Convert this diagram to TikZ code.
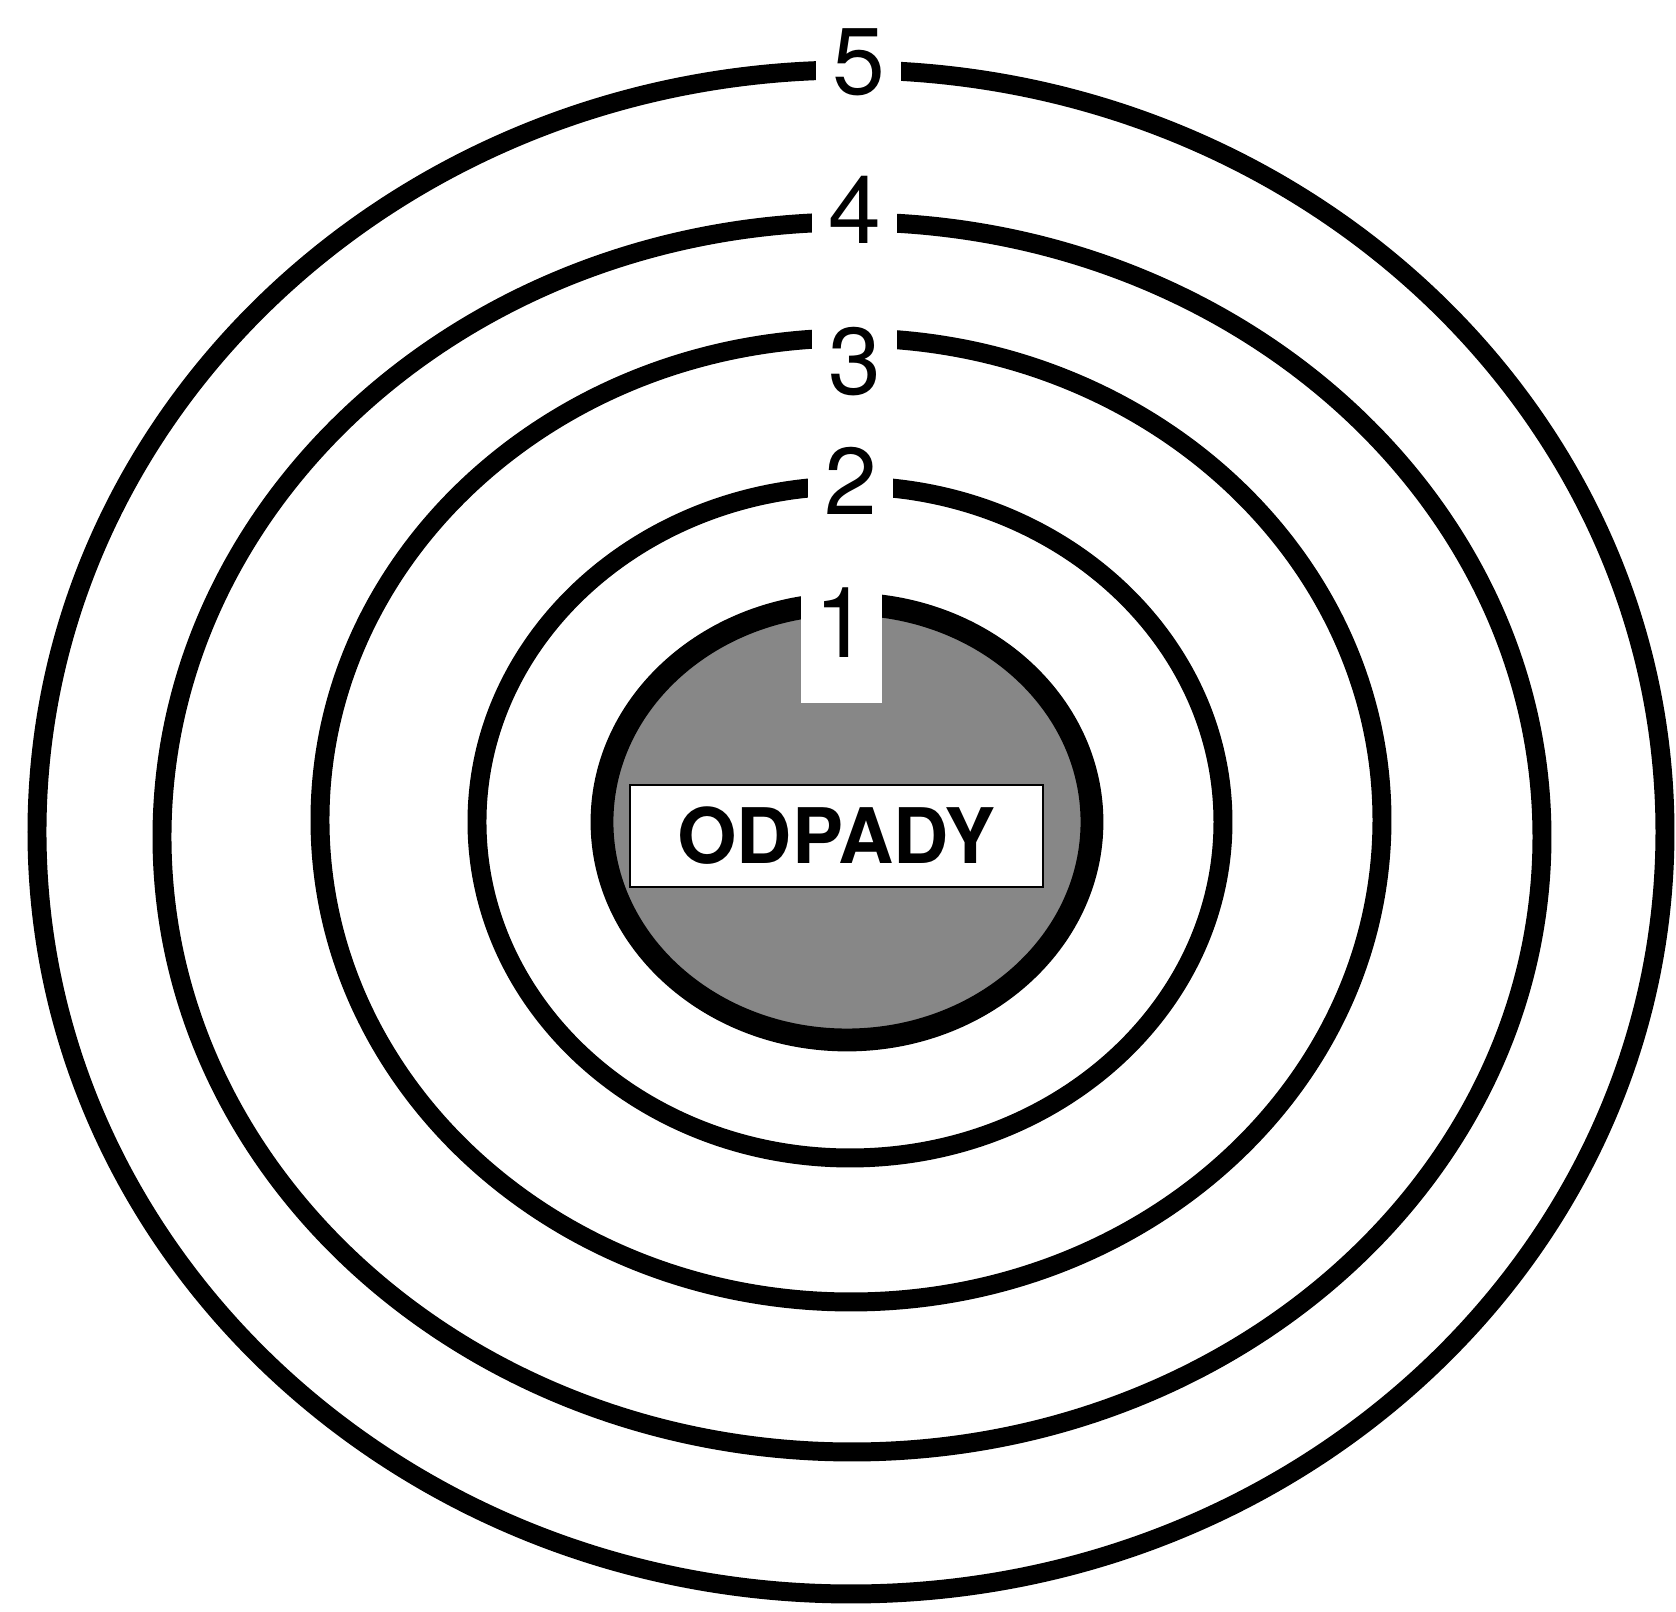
\documentclass[tikz,border=0pt]{standalone}
\usepackage{fontspec}
\setsansfont{TeX Gyre Heros}
\newfontfamily\digitfont{TeX Gyre Heros}
\usetikzlibrary{shapes.geometric}

\begin{document}
\begin{tikzpicture}[
  font=\sffamily,
  ring/.style={draw=black, ellipse, line width=5.4pt, inner sep=0pt, outer sep=0pt},
  core/.style={draw=black, ellipse, line width=6.5pt, fill=black!47, inner sep=0pt, outer sep=0pt},
  num/.style={fill=white, inner sep=1pt, minimum width=0.85cm, minimum height=0.8cm,
    font=\digitfont\fontsize{27}{27}\selectfont},
  namebox/.style={draw=black, line width=0.8pt, fill=white, minimum width=4.13cm,
    minimum height=1.02cm, inner sep=0pt, font=\digitfont\bfseries\fontsize{21.8}{22}\selectfont}
]
\useasboundingbox (-8.50,-7.90) rectangle (8.26,8.22);

\node[ring, minimum width=16.28cm, minimum height=15.24cm] (ring5) at (0.01,-0.10) {};
\node[ring, minimum width=13.80cm, minimum height=12.30cm] (ring4) at (0.02,-0.15) {};
\node[ring, minimum width=10.62cm, minimum height=9.64cm] (ring3) at (0.01,0.02) {};
\node[ring, minimum width=7.46cm, minimum height=6.72cm] (ring2) at (0,0) {};
\node[core, minimum width=4.90cm, minimum height=4.36cm] (ring1) at (-0.03,0) {};

\node[num] (lab5) at ([xshift=0.08cm, yshift=0.08cm]ring5.north) {5};
\node[num] (lab4) at ([xshift=0.03cm, yshift=0.12cm]ring4.north) {4};
\node[num] (lab3) at ([xshift=0.04cm, yshift=-0.24cm]ring3.north) {3};
\node[num] (lab2) at ([xshift=0.01cm, yshift=0.05cm]ring2.north) {2};

% notch with the inner number
\node[fill=white, inner xsep=0pt, inner ysep=0pt, minimum width=0.81cm,
  text height=0.75cm, text depth=0.45cm, anchor=base,
  font=\digitfont\fontsize{28}{28}\selectfont] (lab1) at (-0.08,1.64) {1};

\node[namebox] (waste) at (-0.135,-0.14) {ODPADY};

\end{tikzpicture}
\end{document}
